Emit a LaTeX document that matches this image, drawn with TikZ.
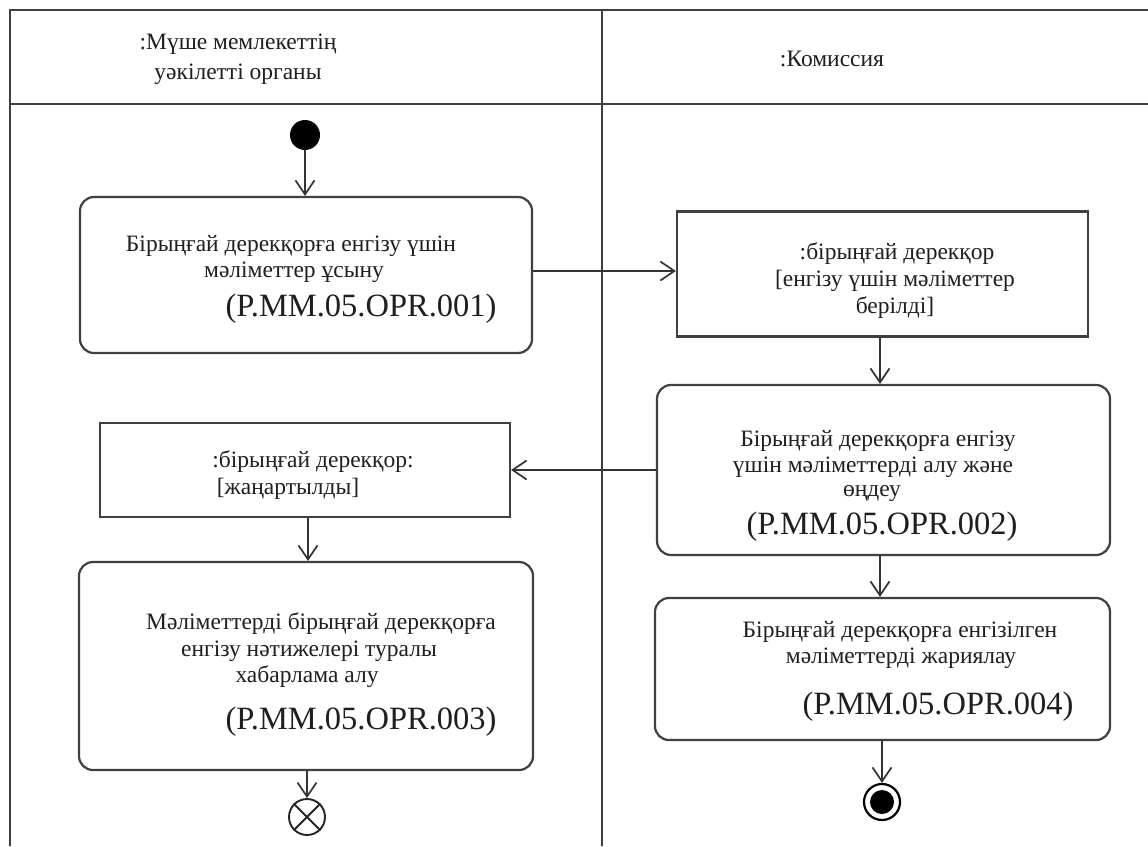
\documentclass[tikz,border=0pt]{standalone}
\usepackage{fontspec}
\setmainfont{Liberation Serif}
\usetikzlibrary{arrows.meta}
\tikzset{
  frame/.style={draw=black!75, line width=2.6pt},
  actbox/.style={draw=black!75, line width=2.2pt, rounded corners=14pt, inner sep=0pt},
  objbox/.style={draw=black!75, line width=2.2pt, inner sep=0pt},
  txt/.style={inner sep=0pt, anchor=center, text=black!88, font=\fontsize{23.5}{27}\selectfont},
  code/.style={inner sep=0pt, anchor=center, text=black!88, font=\fontsize{32.5}{36}\selectfont},
  flow/.style={draw=black!80, line width=1.7pt, -{Straight Barb[length=14pt,width=19pt,line width=1.7pt]}},
}
\begin{document}
\begin{tikzpicture}[x=1pt,y=-1pt]
\useasboundingbox (0,0) rectangle (1148,846);
\fill[white] (0,0) rectangle (1148,846);
% swimlane frame
\draw[frame] (1148,10) -- (10,10) -- (10,846);
\draw[frame] (10,104) -- (1148,104);
\draw[frame] (602,10) -- (602,846);
\node[txt] (h1a) at (238,44) {:Мүше мемлекеттің};
\node[txt] (h1b) at (238,74) {уәкілетті органы};
\node[txt] (h2) at (832,59) {:Комиссия};
% start
\node[circle, fill=black, minimum size=30pt, inner sep=0pt] (start) at (305,135) {};
% boxes
\node[actbox, minimum width=452pt, minimum height=156pt] (b1) at (306,275) {};
\node[objbox, minimum width=411pt, minimum height=125pt] (b2) at (882.5,274) {};
\node[actbox, minimum width=453pt, minimum height=170pt] (b3) at (883.5,470) {};
\node[objbox, minimum width=410pt, minimum height=94pt] (b4) at (305,470) {};
\node[actbox, minimum width=454pt, minimum height=208pt] (b5) at (306,666) {};
\node[actbox, minimum width=455pt, minimum height=142pt] (b6) at (882.5,669) {};
% texts
\node[txt] (t1a) at (291,246) {Бірыңғай дерекқорға енгізу үшін};
\node[txt] (t1b) at (294,272) {мәліметтер ұсыну};
\node[code] (c1) at (361,309) {(P.MM.05.OPR.001)};
\node[txt] (t2a) at (897,254) {:бірыңғай дерекқор};
\node[txt] (t2b) at (895,281) {[енгізу үшін мәліметтер};
\node[txt] (t2c) at (895,308) {берілді]};
\node[txt] (t3a) at (878,441) {Бірыңғай дерекқорға енгізу};
\node[txt] (t3b) at (873,467) {үшін мәліметтерді алу және};
\node[txt] (t3c) at (872,493) {өңдеу};
\node[code] (c2) at (882,527) {(P.MM.05.OPR.002)};
\node[txt] (t4a) at (313,462) {:бірыңғай дерекқор:};
\node[txt] (t4b) at (288,489) {[жаңартылды]};
\node[txt] (t5a) at (321,624) {Мәліметтерді бірыңғай дерекқорға};
\node[txt] (t5b) at (309,651) {енгізу нәтижелері туралы};
\node[txt] (t5c) at (307,677) {хабарлама алу};
\node[code] (c5) at (361,722) {(P.MM.05.OPR.003)};
\node[txt] (t6a) at (900,632) {Бірыңғай дерекқорға енгізілген};
\node[txt] (t6b) at (901,658) {мәліметтерді жариялау};
\node[code] (c6) at (938,707) {(P.MM.05.OPR.004)};
% end nodes
\node[circle, draw=black!85, line width=1.9pt, minimum size=36pt, inner sep=0pt] (ff) at (307,817) {};
\draw[black!85, line width=1.9pt] (ff.north west) -- (ff.south east);
\draw[black!85, line width=1.9pt] (ff.south west) -- (ff.north east);
\node[circle, draw=black, line width=2.2pt, minimum size=36pt, inner sep=0pt] (fin) at (882,802) {};
\node[circle, fill=black, minimum size=24pt, inner sep=0pt] (finin) at (fin.center) {};
% flows
\draw[flow] (start) -- (start |- b1.north);
\draw[flow] (b1.east |- 0,271) -- (b2.west |- 0,271);
\draw[flow] (b2.south -| 880,0) -- (b3.north -| 880,0);
\draw[flow] (b3.west) -- (b4.east);
\draw[flow] (b4.south -| 308,0) -- (b5.north -| 308,0);
\draw[flow] (b5.south -| ff) -- (ff.north);
\draw[flow] (b3.south -| 880,0) -- (b6.north -| 880,0);
\draw[flow] (b6.south -| fin) -- (fin.north);
\end{tikzpicture}
\end{document}
